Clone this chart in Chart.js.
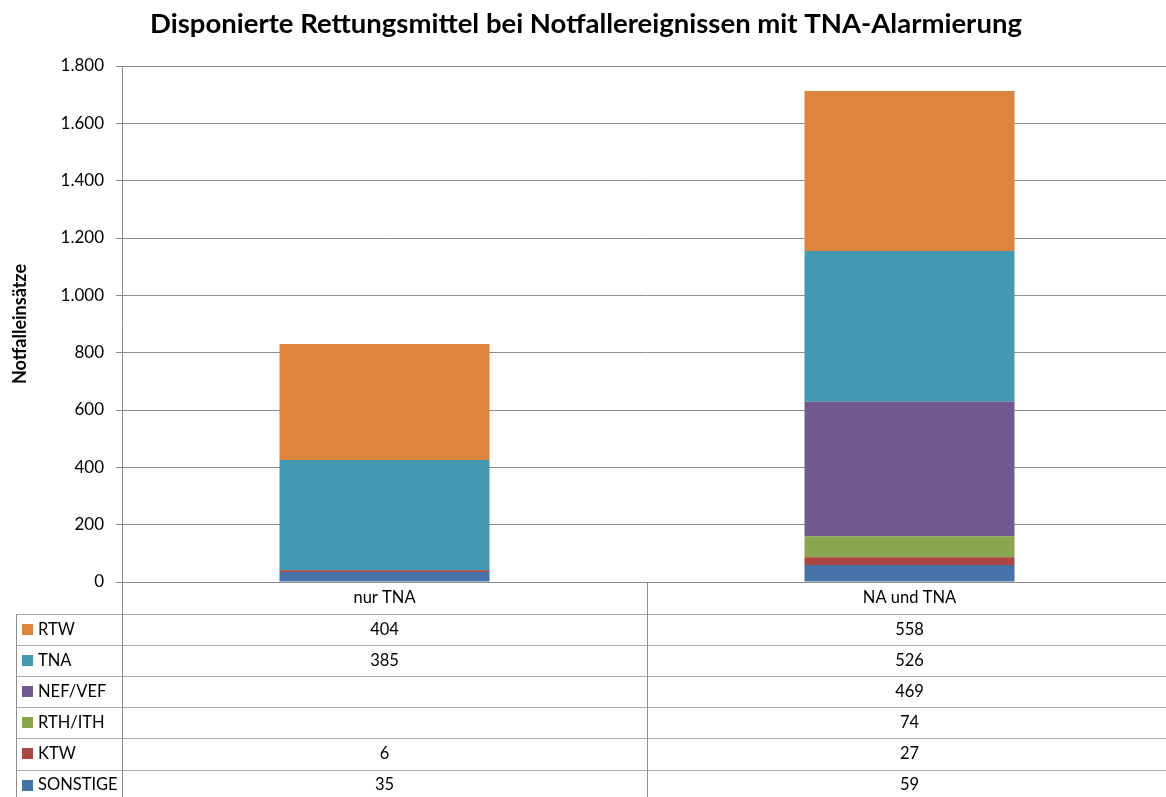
<!DOCTYPE html>
<html>
<head>
<meta charset="utf-8">
<script src="https://cdn.jsdelivr.net/npm/chart.js@4/dist/chart.umd.min.js"></script>
<style>
html,body{margin:0;padding:0;background:#fff;overflow:hidden;}
#wrap{position:relative;width:1172px;height:797px;}
</style>
</head>
<body>
<div id="wrap"><canvas id="c"></canvas></div>
<script>
const categories = ['nur TNA', 'NA und TNA'];
const seriesNames = ['RTW', 'TNA', 'NEF/VEF', 'RTH/ITH', 'KTW', 'SONSTIGE'];
const RTW = [404, 558];
const TNA = [385, 526];
const NEF_VEF = [null, 469];
const RTH_ITH = [null, 74];
const KTW = [6, 27];
const SONSTIGE = [35, 59];
const yTicks = [0, 200, 400, 600, 800, 1000, 1200, 1400, 1600, 1800];
const colors = ['#DD843E', '#4299B1', '#71588F', '#89A54E', '#AA4643', '#4572A7'];
const seriesValues = [RTW, TNA, NEF_VEF, RTH_ITH, KTW, SONSTIGE];

const FONT = 'Lato, "Open Sans", sans-serif';
const HEADER_H = 32, ROW_H = 31.1, TABLE_LEFT = 16;

// bottom-up stacking: SONSTIGE first
const datasets = seriesNames.map((name, i) => ({
  label: name,
  data: seriesValues[i],
  backgroundColor: colors[i],
  borderWidth: 0,
  categoryPercentage: 1.0,
  barPercentage: 0.4
})).reverse();

const tablePlugin = {
  id: 'dataTable',
  afterDraw(chart) {
    const ctx = chart.ctx;
    const area = chart.chartArea;
    const xs = chart.scales.x;
    const W = chart.width, H = chart.height;
    const top = area.bottom;
    const hb = top + HEADER_H;
    ctx.save();
    ctx.strokeStyle = '#ababab';
    ctx.lineWidth = 1;
    for (let i = 0; i < seriesNames.length; i++) {
      const y = Math.round(hb + i * ROW_H) + 0.5;
      ctx.beginPath(); ctx.moveTo(TABLE_LEFT, y); ctx.lineTo(W, y); ctx.stroke();
    }
    ctx.strokeStyle = '#8c8c8c';
    const xl = Math.round(area.left) + 0.5;
    ctx.beginPath(); ctx.moveTo(xl, top); ctx.lineTo(xl, H); ctx.stroke();
    ctx.beginPath(); ctx.moveTo(TABLE_LEFT + 0.5, Math.round(hb)); ctx.lineTo(TABLE_LEFT + 0.5, H); ctx.stroke();
    for (let k = 0; k < categories.length - 1; k++) {
      const xm = Math.round((xs.getPixelForValue(k) + xs.getPixelForValue(k + 1)) / 2) + 0.5;
      ctx.beginPath(); ctx.moveTo(xm, top); ctx.lineTo(xm, H); ctx.stroke();
    }
    ctx.fillStyle = '#000';
    ctx.font = '16.5px ' + FONT;
    ctx.textAlign = 'center';
    ctx.textBaseline = 'middle';
    categories.forEach((c, k) => {
      ctx.fillText(c, xs.getPixelForValue(k), top + HEADER_H / 2);
    });
    seriesNames.forEach((name, i) => {
      const yc = hb + i * ROW_H + ROW_H / 2;
      ctx.fillStyle = colors[i];
      ctx.fillRect(22, Math.round(yc - 5.5), 11, 11);
      ctx.fillStyle = '#000';
      ctx.textAlign = 'left';
      ctx.fillText(name, 38, yc);
      ctx.textAlign = 'center';
      seriesValues[i].forEach((v, k) => {
        if (v !== null && v !== undefined) ctx.fillText(String(v), xs.getPixelForValue(k), yc);
      });
    });
    ctx.restore();
  }
};

new Chart(document.getElementById('c'), {
  type: 'bar',
  data: { labels: categories, datasets },
  plugins: [tablePlugin],
  options: {
    responsive: true,
    maintainAspectRatio: false,
    animation: false,
    layout: { padding: { left: 0, right: 0, top: 0, bottom: 215 } },
    plugins: {
      legend: { display: false },
      tooltip: { enabled: false },
      title: {
        display: true,
        text: 'Disponierte Rettungsmittel bei Notfallereignissen mit TNA-Alarmierung',
        color: '#000',
        font: { family: FONT, size: 27.5, weight: 'bold' },
        padding: { top: 8, bottom: 25 }
      }
    },
    scales: {
      x: {
        display: false,
        stacked: true
      },
      y: {
        stacked: true,
        min: 0,
        max: 1800,
        afterBuildTicks(scale) { scale.ticks = yTicks.map(v => ({ value: v })); },
        afterFit(scale) { scale.width = 122; },
        ticks: {
          color: '#000',
          padding: 12,
          font: { family: FONT, size: 17 },
          callback: v => v.toLocaleString('de-DE')
        },
        grid: { color: '#8c8c8c', lineWidth: 1, tickLength: 6, drawTicks: true },
        border: { display: true, color: '#8c8c8c' },
        title: {
          display: true,
          text: 'Notfalleinsätze',
          color: '#000',
          font: { family: FONT, size: 18, weight: 'bold' },
          padding: { top: 9, bottom: 0 }
        }
      }
    }
  }
});
</script>
</body>
</html>
